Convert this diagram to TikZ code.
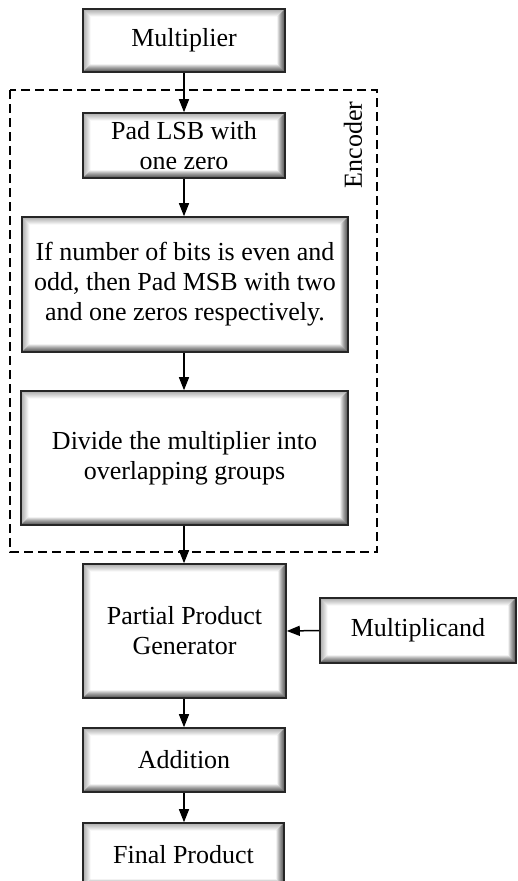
\documentclass[tikz,border=0pt]{standalone}
\usepackage{fontspec}
\setmainfont{Liberation Serif}
\usetikzlibrary{arrows.meta}

\tikzset{
  bevel/.style={
    draw=black!85, line width=1.6pt, fill=white, align=center,
    inner sep=0pt, font=\fontsize{26}{30}\selectfont,
    path picture={
      \foreach \k in {1,...,7}{
        \pgfmathsetmacro\op{0.42*(1-\k/8)}
        % light inner shade along the left and top edges
        \draw[line width=1.05pt, draw=black, draw opacity=\op*0.45]
          ([shift={(\k pt,\k pt)}]path picture bounding box.south west) --
          ([shift={(\k pt,-\k pt)}]path picture bounding box.north west) --
          ([shift={(-\k pt,-\k pt)}]path picture bounding box.north east);
        % darker inner shade along the right and bottom edges
        \draw[line width=1.05pt, draw=black, draw opacity=\op]
          ([shift={(-\k pt,-\k pt)}]path picture bounding box.north east) --
          ([shift={(-\k pt,\k pt)}]path picture bounding box.south east) --
          ([shift={(\k pt,\k pt)}]path picture bounding box.south west);
      }
    }
  },
  flow/.style={line width=1.5pt, -{Triangle[length=13pt,width=10pt]}},
  group/.style={draw=black, line width=1.4pt, dash pattern=on 9pt off 5pt}
}

\begin{document}
\begin{tikzpicture}[x=1pt, y=-1pt]
  \useasboundingbox (0,0) rectangle (517,881);
  \clip (0,0) rectangle (517,881);

  % encoder group
  \draw[group] (10,90) rectangle (377,552);
  \node[rotate=90, font=\fontsize{26}{30}\selectfont] (enc) at (353,145) {Encoder};

  % blocks
  \node[bevel, minimum width=202pt, minimum height=63pt] (mult) at (184,40.5) {Multiplier};
  \node[bevel, minimum width=202pt, minimum height=65pt] (pad) at (184,145.5) {Pad LSB with\\one zero};
  \node[bevel, minimum width=326pt, minimum height=135pt] (msb) at (185,284.5)
    {If number of bits is even and\\odd, then Pad MSB with two\\and one zeros respectively.};
  \node[bevel, minimum width=327pt, minimum height=134pt] (div) at (184.5,458)
    {Divide the multiplier into\\overlapping groups};
  \node[bevel, minimum width=203pt, minimum height=134pt] (ppg) at (184.5,631)
    {Partial Product\\Generator};
  \node[bevel, minimum width=196pt, minimum height=65pt] (mcand) at (418,630.5) {Multiplicand};
  \node[bevel, minimum width=202pt, minimum height=64pt] (add) at (184,760) {Addition};
  \node[bevel, minimum width=201pt, minimum height=64pt] (fin) at (183.5,855) {Final Product};

  % connections
  \draw[flow] (mult.south) -- (pad.north);
  \draw[flow] (pad.south) -- (pad.south |- msb.north);
  \draw[flow] (pad.south |- msb.south) -- (pad.south |- div.north);
  \draw[flow] (pad.south |- div.south) -- (pad.south |- ppg.north);
  \draw[flow] (mcand.west) -- (ppg.east);
  \draw[flow] (pad.south |- ppg.south) -- (add.north);
  \draw[flow] (add.south) -- (add.south |- fin.north);
\end{tikzpicture}
\end{document}
